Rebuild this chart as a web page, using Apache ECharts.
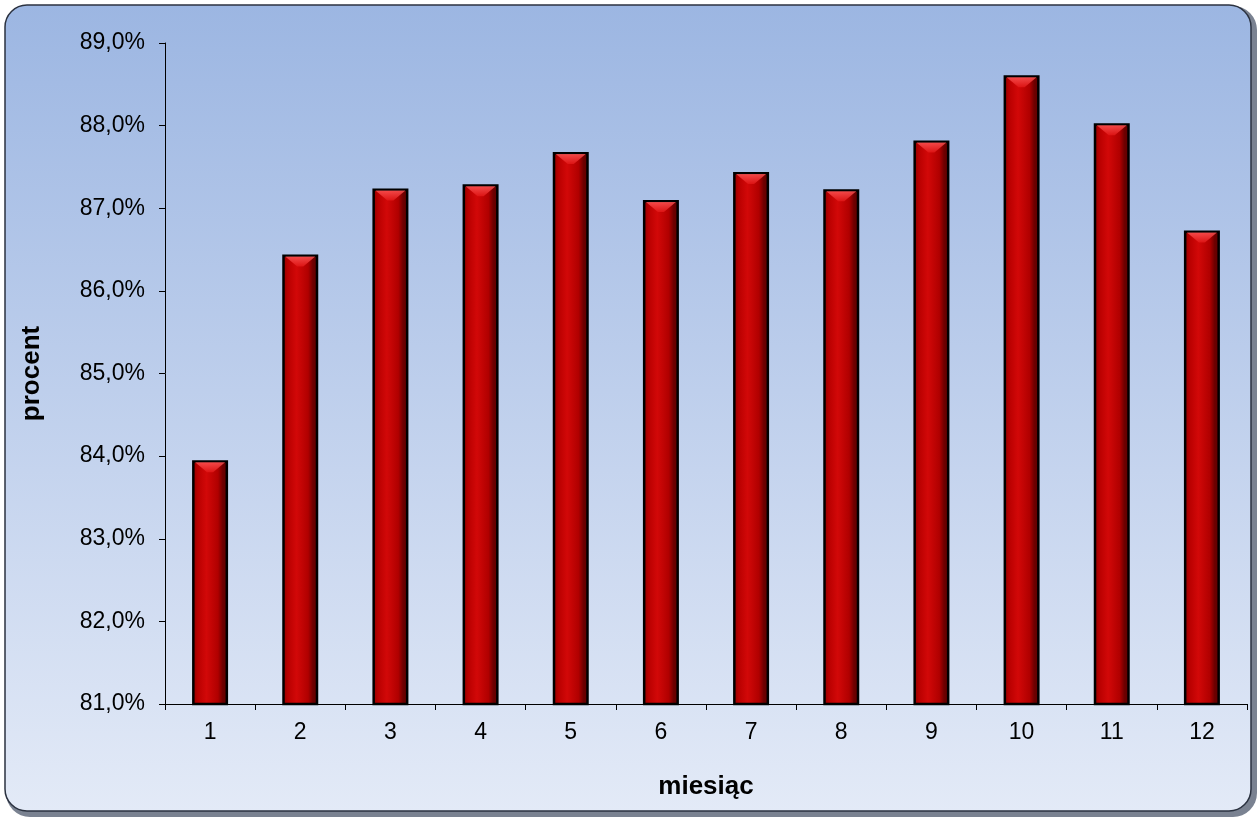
<!DOCTYPE html>
<html><head><meta charset="utf-8">
<script src="https://cdn.jsdelivr.net/npm/echarts@6/dist/echarts.min.js"></script>
<style>html,body{margin:0;padding:0;background:#fff}#c{width:1260px;height:820px}</style>
</head><body><div id="c"></div>
<script>
const categories = ['1','2','3','4','5','6','7','8','9','10','11','12'];
const values = [83.95, 86.44, 87.24, 87.29, 87.68, 87.10, 87.44, 87.23, 87.82, 88.61, 88.03, 86.73];
const yMin = 81, yMax = 89, yStep = 1;

const chart = echarts.init(document.getElementById('c'));
const font = 'Liberation Sans, Arial, sans-serif';
chart.setOption({
  animation: false,
  graphic: [{
    type: 'rect', z: -11, silent: true,
    shape: {x: 6, y: 6, width: 1251, height: 811, r: 24},
    style: {fill: '#7a8291'}
  }, {
    type: 'rect', z: -10, silent: true,
    shape: {x: 5, y: 5, width: 1246, height: 806, r: 22},
    style: {
      fill: new echarts.graphic.LinearGradient(0, 0, 0, 1, [
        {offset: 0, color: '#9cb6e2'}, {offset: 1, color: '#e3eaf7'}]),
      stroke: '#2b3240', lineWidth: 1.5
    }
  }],
  grid: {left: 165, right: 13, top: 43, bottom: 116, containLabel: false},
  xAxis: {
    type: 'category', data: categories,
    name: 'miesiąc', nameLocation: 'middle', nameGap: 70,
    nameTextStyle: {fontFamily: font, fontSize: 26, fontWeight: 'bold', color: '#000'},
    axisLine: {lineStyle: {color: '#000', width: 1}},
    axisTick: {show: true, length: 6, lineStyle: {color: '#000'}},
    axisLabel: {fontFamily: font, fontSize: 23, color: '#000', margin: 17}
  },
  yAxis: {
    type: 'value', min: yMin, max: yMax, interval: yStep,
    name: 'procent', nameLocation: 'middle', nameGap: 120, nameRotate: 90,
    nameTextStyle: {fontFamily: font, fontSize: 26, fontWeight: 'bold', color: '#000'},
    axisLine: {show: true, lineStyle: {color: '#000', width: 1}},
    axisTick: {show: true, length: 6, lineStyle: {color: '#000'}},
    splitLine: {show: false},
    axisLabel: {fontFamily: font, fontSize: 23, color: '#000', margin: 20,
      formatter: v => v.toFixed(1).replace('.', ',') + '%'}
  },
  series: [{
    type: 'bar', data: values, barWidth: 36,
    itemStyle: {
      color: new echarts.graphic.LinearGradient(0, 0, 1, 0, [
        {offset: 0, color: '#8a0000'}, {offset: 0.15, color: '#b80000'},
        {offset: 0.4, color: '#d20808'}, {offset: 0.72, color: '#b00000'},
        {offset: 0.85, color: '#6e0000'}, {offset: 1, color: '#5a0000'}]),
      borderColor: '#000', borderWidth: 2.5
    }
  }, {
    type: 'scatter', data: values, silent: true, z: 5,
    symbol: 'path://M0,0 L10,0 L6,3.2 L4,3.2 Z',
    symbolSize: [30, 10], symbolOffset: [0, 7],
    itemStyle: {color: new echarts.graphic.LinearGradient(0, 0, 0, 1, [
      {offset: 0, color: '#ff5a5a'}, {offset: 1, color: '#e21818'}])}
  }]
});
</script></body></html>
